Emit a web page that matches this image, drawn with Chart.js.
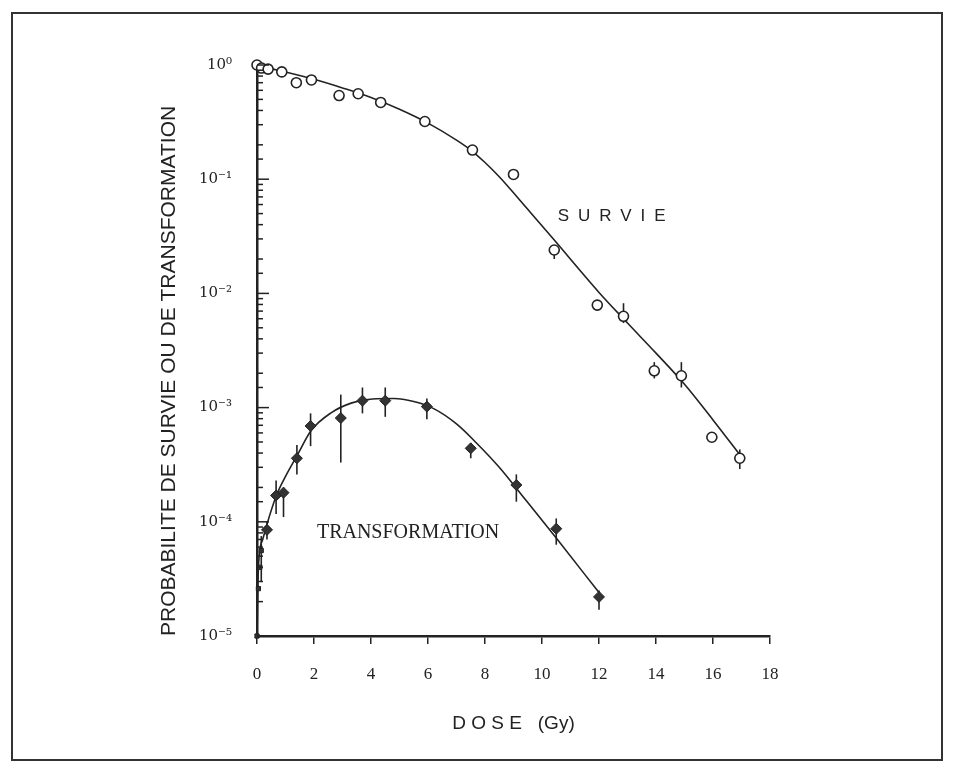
<!DOCTYPE html>
<html>
<head>
<meta charset="utf-8">
<script src="https://cdn.jsdelivr.net/npm/chart.js@4.4.0/dist/chart.umd.min.js"></script>
<style>
  html, body { margin: 0; padding: 0; background: #fff; }
  #wrap { width: 953px; height: 771px; }
</style>
</head>
<body>
<div id="wrap"><canvas id="chart" width="953" height="771"></canvas></div>
<script>
const INK = "#222";

// survie : points mesurés (cercles ouverts)
const survDose = [0, 0.16, 0.39, 0.87, 1.38, 1.91, 2.88, 3.55, 4.34, 5.89, 7.56, 9.0, 10.43, 11.94, 12.86, 13.94, 14.89, 15.96, 16.94];
const survProb = [1.0, 0.94, 0.92, 0.87, 0.70, 0.74, 0.54, 0.56, 0.47, 0.32, 0.18, 0.11, 0.024, 0.0079, 0.0063, 0.0021, 0.0019, 0.00055, 0.00036];
const survLow  = [null, null, null, null, null, null, null, null, null, null, null, null, 0.020, null, 0.0055, 0.0018, 0.0015, null, 0.00029];
const survHigh = [null, null, null, null, null, null, null, null, null, null, null, null, 0.025, null, 0.0082, 0.0025, 0.0025, null, 0.00043];

// survie : courbe ajustée
const survFitDose = [0, 0.5, 1, 2, 3, 4, 5, 6, 7, 7.5, 8, 8.5, 9, 9.5, 10.4, 12, 13, 14, 15, 16, 17];
const survFitProb = [1.0, 0.93, 0.87, 0.75, 0.63, 0.52, 0.41, 0.31, 0.22, 0.18, 0.14, 0.105, 0.076, 0.0545, 0.0299, 0.0102, 0.0055, 0.0030, 0.0016, 0.00078, 0.00037];

// transformation : points mesurés (symboles pleins) + barres d'erreur
const transDose = [0, 0.05, 0.1, 0.15, 0.35, 0.67, 0.93, 1.4, 1.88, 2.94, 3.7, 4.5, 5.96, 7.5, 9.1, 10.5, 12.0];
const transProb = [1e-5, 2.6e-5, 4e-5, 5.6e-5, 8.5e-5, 1.7e-4, 1.8e-4, 3.6e-4, 6.9e-4, 8.1e-4, 1.15e-3, 1.15e-3, 1.02e-3, 4.4e-4, 2.1e-4, 8.7e-5, 2.2e-5];
const transLow  = [null, null, null, 3.0e-5, 7.0e-5, 1.17e-4, 1.1e-4, 2.6e-4, 4.6e-4, 3.3e-4, 8.9e-4, 8.3e-4, 7.9e-4, 3.6e-4, 1.5e-4, 6.3e-5, 1.7e-5];
const transHigh = [null, null, null, 7.5e-5, 1.0e-4, 2.3e-4, 2.0e-4, 4.7e-4, 8.9e-4, 1.3e-3, 1.5e-3, 1.5e-3, 1.2e-3, 4.9e-4, 2.6e-4, 1.07e-4, 2.5e-5];

// transformation : courbe ajustée
const transFitDose = [0, 0.05, 0.2, 0.45, 0.7, 1.0, 1.43, 1.9, 2.6, 3.33, 4.05, 4.8, 5.5, 6.2, 7.0, 7.7, 8.5, 9.3, 10.5, 12.0];
const transFitProb = [1e-5, 4e-5, 7e-5, 1.15e-4, 1.75e-4, 2.5e-4, 3.9e-4, 6.3e-4, 9.0e-4, 1.1e-3, 1.19e-3, 1.2e-3, 1.13e-3, 9.8e-4, 7.2e-4, 4.9e-4, 3.0e-4, 1.7e-4, 7.2e-5, 2.4e-5];

// axes
const xTickValues = [0, 2, 4, 6, 8, 10, 12, 14, 16, 18];
const xTickLabels = ["0", "2", "4", "6", "8", "10", "12", "14", "16", "18"];
const yDecades = [1e-5, 1e-4, 1e-3, 1e-2, 1e-1, 1];
const yTickLabels = ["10\u207B\u2075", "10\u207B\u2074", "10\u207B\u00B3", "10\u207B\u00B2", "10\u207B\u00B9", "10\u2070"];

const pts = (xs, ys) => xs.map((x, i) => ({ x: x, y: ys[i] }));

function isDecade(v) {
  const e = Math.log10(v);
  return Math.abs(e - Math.round(e)) < 1e-6;
}

const paper = {
  id: "paper",
  beforeDraw(chart) {
    const ctx = chart.ctx;
    ctx.save();
    ctx.fillStyle = "#fff";
    ctx.fillRect(0, 0, chart.width, chart.height);
    ctx.strokeStyle = "#333";
    ctx.lineWidth = 2;
    ctx.strokeRect(12, 13, 930, 747);
    ctx.restore();
  }
};

// barres d'erreur verticales, sous les symboles
const errorBars = {
  id: "errorBars",
  beforeDatasetsDraw(chart) {
    const ctx = chart.ctx, xs = chart.scales.x, ys = chart.scales.y;
    ctx.save();
    ctx.strokeStyle = INK;
    ctx.lineWidth = 1.6;
    const draw = (dose, low, high) => {
      dose.forEach((d, i) => {
        if (low[i] == null) return;
        const px = xs.getPixelForValue(d);
        ctx.beginPath();
        ctx.moveTo(px, ys.getPixelForValue(low[i]));
        ctx.lineTo(px, ys.getPixelForValue(high[i]));
        ctx.stroke();
      });
    };
    draw(survDose, survLow, survHigh);
    draw(transDose, transLow, transHigh);
    ctx.restore();
  }
};

// graduations de l'axe vertical tournées vers l'intérieur
const innerTicks = {
  id: "innerTicks",
  afterDatasetsDraw(chart) {
    const ctx = chart.ctx, ys = chart.scales.y, left = chart.chartArea.left;
    ctx.save();
    ctx.strokeStyle = INK;
    ctx.lineWidth = 1.5;
    ys.ticks.forEach(t => {
      const py = ys.getPixelForValue(t.value);
      ctx.beginPath();
      ctx.moveTo(left, py);
      ctx.lineTo(left + (isDecade(t.value) ? 12 : 6), py);
      ctx.stroke();
    });
    ctx.restore();
  }
};

const curveLabels = {
  id: "curveLabels",
  afterDatasetsDraw(chart) {
    const ctx = chart.ctx, xs = chart.scales.x, ys = chart.scales.y;
    ctx.save();
    ctx.fillStyle = INK;
    ctx.textAlign = "left";
    ctx.textBaseline = "middle";
    ctx.font = '17px "Liberation Sans"';
    ctx.letterSpacing = "9px";
    ctx.fillText("SURVIE", xs.getPixelForValue(10.55), ys.getPixelForValue(0.047));
    ctx.letterSpacing = "0px";
    ctx.textAlign = "center";
    ctx.font = '20px "Liberation Serif"';
    ctx.fillText("TRANSFORMATION", xs.getPixelForValue(5.3), ys.getPixelForValue(8.1e-5));
    ctx.restore();
  }
};

new Chart(document.getElementById("chart"), {
  type: "scatter",
  data: {
    datasets: [
      {
        label: "Survie",
        data: pts(survDose, survProb),
        pointStyle: "circle",
        pointRadius: 5,
        pointBackgroundColor: "#fff",
        pointBorderColor: INK,
        pointBorderWidth: 1.6,
        clip: false,
        order: 0
      },
      {
        label: "Transformation",
        data: pts(transDose, transProb),
        pointStyle: ctx => (ctx.raw && ctx.raw.x < 0.3 ? "rect" : "rectRot"),
        pointRadius: ctx => (ctx.raw && ctx.raw.x < 0.3 ? 3 : 5.5),
        pointBackgroundColor: "#333",
        pointBorderColor: "#222",
        pointBorderWidth: 1,
        clip: false,
        order: 0
      },
      {
        type: "line",
        label: "Survie (ajustement)",
        data: pts(survFitDose, survFitProb),
        borderColor: INK,
        borderWidth: 1.6,
        pointRadius: 0,
        fill: false,
        cubicInterpolationMode: "monotone",
        clip: false,
        order: 1
      },
      {
        type: "line",
        label: "Transformation (ajustement)",
        data: pts(transFitDose, transFitProb),
        borderColor: INK,
        borderWidth: 1.6,
        pointRadius: 0,
        fill: false,
        cubicInterpolationMode: "monotone",
        clip: false,
        order: 1
      }
    ]
  },
  options: {
    responsive: false,
    animation: false,
    devicePixelRatio: 1,
    layout: { padding: { left: 150, top: 65, right: 183, bottom: 35 } },
    plugins: {
      legend: { display: false },
      tooltip: { enabled: false }
    },
    scales: {
      x: {
        type: "linear",
        min: 0,
        max: 18,
        afterBuildTicks: s => { s.ticks = xTickValues.map(v => ({ value: v })); },
        afterFit: s => { s.height = 100; },
        ticks: {
          color: INK,
          padding: 20,
          font: { family: "Liberation Serif", size: 17 },
          callback: v => xTickLabels[xTickValues.indexOf(v)]
        },
        grid: { drawOnChartArea: false, drawTicks: true, tickLength: 8, color: INK, lineWidth: 1.5 },
        border: { display: true, color: INK, width: 2.5 },
        title: {
          display: true,
          text: "D O S E   (Gy)",
          color: INK,
          font: { family: "Liberation Sans", size: 19 },
          padding: { top: 0, bottom: 1 }
        }
      },
      y: {
        type: "logarithmic",
        min: 1e-5,
        max: 1,
        afterFit: s => { s.width = 107; },
        ticks: {
          autoSkip: false,
          color: INK,
          padding: 25,
          font: { family: "DejaVu Serif", size: 15 },
          callback: v => {
            if (!isDecade(v)) return "";
            const i = yDecades.findIndex(d => Math.abs(Math.log10(d) - Math.log10(v)) < 1e-6);
            return i >= 0 ? yTickLabels[i] : "";
          }
        },
        grid: { display: true, drawOnChartArea: false, drawTicks: false },
        border: { display: true, color: INK, width: 2.5 },
        title: {
          display: true,
          align: "start",
          text: "PROBABILITE DE SURVIE OU DE TRANSFORMATION",
          color: INK,
          font: { family: "Liberation Sans", size: 21 },
          padding: { top: 7, bottom: 0 }
        }
      }
    }
  },
  plugins: [paper, errorBars, innerTicks, curveLabels]
});
</script>
</body>
</html>
